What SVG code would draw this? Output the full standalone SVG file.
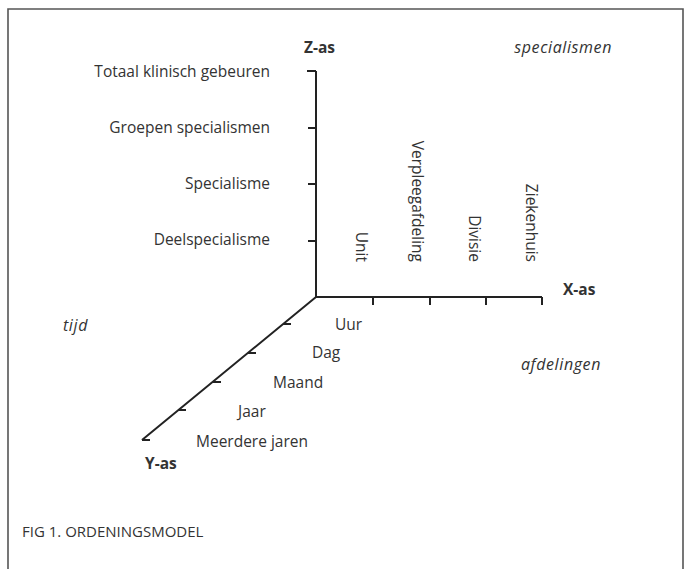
<svg xmlns="http://www.w3.org/2000/svg" width="685" height="569" viewBox="0 0 685 569">
<style>
text{font-family:"Open Sans","Noto Sans","DejaVu Sans",sans-serif;font-size:15.5px;fill:#333}
.b{font-weight:bold}
.i{font-style:italic;font-size:16px;letter-spacing:0.6px}
.r{text-anchor:end}
.cap{font-size:15px}
.ax{stroke:#222;stroke-width:2;fill:none}
</style>
<rect width="685" height="569" fill="#fff"/>
<path d="M8,575 V9 H683 V575" fill="none" stroke="#555" stroke-width="1.6"/>
<g id="connectors">
<path class="ax" d="M316,71 V297 H542 M316,297 L142,440"/>
<path class="ax" d="M307,71 H316 M308,128 H316 M308,184 H316 M308,241 H316"/>
<path class="ax" d="M373,297 V305 M430,297 V305 M486,297 V305 M542,297 V305"/>
<path class="ax" d="M283,324 H291 M248,353 H256 M213,382 H221 M178,410 H186 M142,440 H150"/>
</g>
<g id="z-axis">
<text class="b" x="304" y="53">Z-as</text>
<text class="i r" x="612" y="53">specialismen</text>
<text class="r" x="270" y="77">Totaal klinisch gebeuren</text>
<text class="r" x="270" y="133">Groepen specialismen</text>
<text class="r" x="270" y="189">Specialisme</text>
<text class="r" x="270" y="245">Deelspecialisme</text>
</g>
<g id="x-axis">
<text class="b" x="563" y="295">X-as</text>
<text class="r" transform="translate(356,262) rotate(90)">Unit</text>
<text class="r" transform="translate(412,262) rotate(90)">Verpleegafdeling</text>
<text class="r" transform="translate(469,262) rotate(90)">Divisie</text>
<text class="r" transform="translate(526,262) rotate(90)">Ziekenhuis</text>
<text class="i r" x="601" y="370">afdelingen</text>
</g>
<g id="y-axis">
<text class="i" x="63" y="331">tijd</text>
<text x="335" y="330">Uur</text>
<text x="312" y="358">Dag</text>
<text x="273" y="388">Maand</text>
<text x="238" y="417">Jaar</text>
<text x="196" y="447">Meerdere jaren</text>
<text class="b" x="145" y="469">Y-as</text>
</g>
<text class="cap" x="22" y="537">FIG 1. ORDENINGSMODEL</text>
</svg>
